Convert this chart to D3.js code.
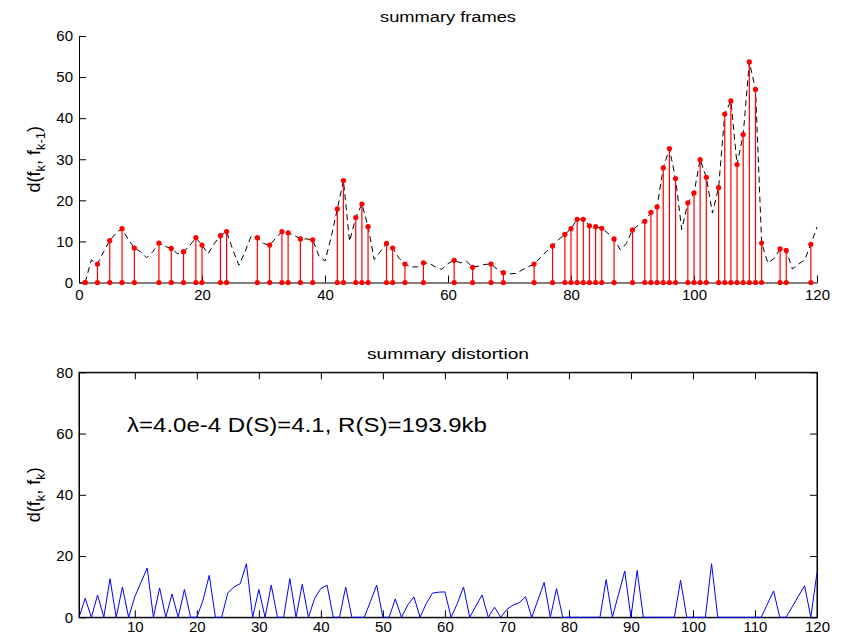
<!DOCTYPE html>
<html>
<head>
<meta charset="utf-8">
<script src="https://cdn.jsdelivr.net/npm/d3@7"></script>
<style>
  html, body { margin: 0; padding: 0; background: #fff; }
  svg { display: block; font-family: "Liberation Sans", Arial, Helvetica, sans-serif; }
</style>
</head>
<body>
<svg id="chart" width="842" height="637"></svg>
<script>
// ---------- data ----------
// d(f_k, f_{k-1}) for frames k = 1..120 (black dashed curve)
const frameDiff = [
  0, 5.5, 4.5, 7.5, 10.2, 12, 13.1, 10.5, 8.4, 7.5,
  6, 7.5, 9.6, 8.8, 8.3, 7, 7.5, 9, 10.9, 9.1,
  7, 9.5, 11.4, 12.4, 8, 4.2, 7.5, 11.3, 10.9, 9.5,
  9.1, 10.8, 12.4, 12.1, 11.5, 10.6, 10.6, 10.4, 6.5, 5.2,
  11, 17.9, 24.8, 10, 15.8, 19.1, 13.6, 5.6, 7.5, 9.5,
  8.4, 6, 4.5, 3.8, 3.8, 4.8, 4.7, 3.7, 3.2, 4.6,
  5.4, 4.8, 5.2, 3.7, 4.0, 4.4, 4.5, 3.2, 2.4, 2.1,
  2.2, 3, 3.8, 4.5, 6, 7.5, 8.9, 10.5, 11.7, 13.1,
  15.4, 15.4, 13.8, 13.6, 13.2, 12, 10.6, 8, 9.5, 12.8,
  14, 14.9, 17.1, 18.4, 27.9, 32.6, 25.3, 12.9, 19.4, 21.8,
  29.9, 25.6, 16.9, 23.1, 41.0, 44.2, 28.7, 36.0, 53.7, 47.0,
  9.6, 4.8, 5.8, 8.2, 7.8, 3.3, 4.5, 5.5, 9.3, 13.5
];
// frames selected into the summary (red stems)
const summaryFrames = [
  1, 3, 5, 7, 9, 13, 15, 17, 19, 20, 23, 24, 29, 31, 33, 34, 36, 38,
  42, 43, 45, 46, 47, 50, 51, 53, 56, 61, 64, 67, 69, 74, 77,
  79, 80, 81, 82, 83, 84, 85, 87, 90, 92, 93, 94, 95, 96, 97,
  99, 100, 101, 102, 104, 105, 106, 107, 108, 109, 110, 111, 114, 115, 119
];
// d(f_k, f'_k) summary distortion for frames k = 1..120 (blue curve)
const distortion = [
  0, 6.2, 0, 7.3, 0, 12.6, 0, 9.9, 0, 6.7,
  11.4, 16.1, 0, 9.6, 0, 7.6, 0, 9.1, 0, 0,
  5.6, 13.7, 0, 0, 8.0, 9.9, 11, 17.5, 0, 9.1,
  0, 10.5, 0, 0, 12.6, 0, 10.8, 0, 6.2, 9.4,
  10.5, 0, 0, 9.9, 0, 0, 0, 5.2, 10.5, 0,
  0, 6.0, 0, 4.0, 6.7, 0, 4.5, 7.9, 8.2, 8.3,
  0, 4.5, 9.9, 0, 3.7, 7.3, 0, 3.3, 0, 2.6,
  4.0, 4.8, 6.7, 0, 5.6, 11.4, 0, 9.4, 0, 0,
  0, 0, 0, 0, 0, 12.3, 0, 7.5, 15.1, 0,
  15.3, 0, 0, 0, 0, 0, 0, 12.1, 0, 0,
  0, 0, 17.5, 0, 0, 0, 0, 0, 0, 0,
  0, 4.3, 8.6, 0, 0, 3.4, 6.9, 10.3, 0, 14.6
];
const topXTicks = [0, 20, 40, 60, 80, 100, 120];
const topYTicks = [0, 10, 20, 30, 40, 50, 60];
const botXTicks = [10, 20, 30, 40, 50, 60, 70, 80, 90, 100, 110, 120];
const botYTicks = [0, 20, 40, 60, 80];
const titles = ["summary frames", "summary distortion"];
const annotation = "\u03bb=4.0e-4 D(S)=4.1, R(S)=193.9kb";

// ---------- drawing ----------
const svg = d3.select("#chart");
const L = 79, R = 817;
const top1 = 36, bot1 = 282.5;
const top2 = 372.3, bot2 = 617.3;
const TICK = 7;

const x1 = d3.scaleLinear().domain([0, 120]).range([L, R]);
const y1 = d3.scaleLinear().domain([0, 60]).range([bot1, top1]);
const x2 = d3.scaleLinear().domain([1, 120]).range([L, R]);
const y2 = d3.scaleLinear().domain([0, 80]).range([bot2, top2]);

function styleAxis(g) {
  g.selectAll("path").attr("stroke", "#000").attr("stroke-width", 1);
  g.selectAll("line").attr("stroke", "#000").attr("stroke-width", 1);
  g.selectAll("text").attr("fill", "#000").attr("font-size", 15)
    .attr("font-family", "'Liberation Sans', Arial, sans-serif");
}

// ===== top panel =====
const topData = frameDiff.map((v, i) => ({ k: i + 1, v }));
const stems = summaryFrames.map(k => ({ k, v: frameDiff[k - 1] }));

// axes (left + bottom, ticks inward)
svg.append("g").attr("transform", `translate(0,${bot1})`)
  .call(d3.axisBottom(x1).tickValues(topXTicks).tickSizeInner(-TICK).tickSizeOuter(0).tickPadding(7))
  .call(styleAxis);
svg.append("g").attr("transform", `translate(${L},0)`)
  .call(d3.axisLeft(y1).tickValues(topYTicks).tickSizeInner(-TICK).tickSizeOuter(0).tickPadding(6))
  .call(styleAxis);

// dashed curve
svg.append("path")
  .datum(topData)
  .attr("fill", "none")
  .attr("stroke", "#000")
  .attr("stroke-width", 1)
  .attr("stroke-dasharray", "6,4")
  .attr("d", d3.line().x(d => x1(d.k)).y(d => y1(d.v)));

// stems
svg.append("g").selectAll("line").data(stems).join("line")
  .attr("x1", d => x1(d.k)).attr("x2", d => x1(d.k))
  .attr("y1", y1(0)).attr("y2", d => y1(d.v))
  .attr("stroke", "#ff0000").attr("stroke-width", 1.2);
svg.append("g").selectAll("circle").data(stems).join("circle")
  .attr("cx", d => x1(d.k)).attr("cy", d => y1(d.v)).attr("r", 2.6)
  .attr("fill", "#ff0000");
svg.append("g").selectAll("circle").data(stems).join("circle")
  .attr("cx", d => x1(d.k)).attr("cy", y1(0)).attr("r", 2.6)
  .attr("fill", "#ff0000");

// title & y label
svg.append("text").attr("x", (L + R) / 2).attr("y", 22)
  .attr("text-anchor", "middle").attr("font-size", 14)
  .attr("textLength", 136).attr("lengthAdjust", "spacingAndGlyphs")
  .text(titles[0]);

function yLabel(cy, sub2) {
  const t = svg.append("text")
    .attr("transform", `translate(40,${cy}) rotate(-90)`)
    .attr("text-anchor", "middle").attr("font-size", 18);
  t.append("tspan").text("d(f");
  t.append("tspan").attr("font-size", 13).attr("dy", 5).text("k");
  t.append("tspan").attr("dy", -5).text(", f");
  t.append("tspan").attr("font-size", 13).attr("dy", 5).text(sub2);
  t.append("tspan").attr("dy", -5).text(")");
}
yLabel((top1 + bot1) / 2, "k-1");

// ===== bottom panel =====
const botData = distortion.map((v, i) => ({ k: i + 1, v }));

svg.append("rect").attr("x", L).attr("y", top2).attr("width", R - L).attr("height", bot2 - top2)
  .attr("fill", "none").attr("stroke", "#000").attr("stroke-width", 1);

svg.append("g").attr("transform", `translate(0,${bot2})`)
  .call(d3.axisBottom(x2).tickValues(botXTicks).tickSizeInner(-TICK).tickSizeOuter(0).tickPadding(4))
  .call(styleAxis);
svg.append("g").attr("transform", `translate(0,${top2})`)
  .call(d3.axisTop(x2).tickValues(botXTicks).tickSizeInner(-TICK).tickSizeOuter(0).tickFormat(""))
  .call(styleAxis);
svg.append("g").attr("transform", `translate(${L},0)`)
  .call(d3.axisLeft(y2).tickValues(botYTicks).tickSizeInner(-TICK).tickSizeOuter(0).tickPadding(6))
  .call(styleAxis);
svg.append("g").attr("transform", `translate(${R},0)`)
  .call(d3.axisRight(y2).tickValues(botYTicks).tickSizeInner(-TICK).tickSizeOuter(0).tickFormat(""))
  .call(styleAxis);

svg.append("path")
  .datum(botData)
  .attr("fill", "none")
  .attr("stroke", "#0000ff")
  .attr("stroke-width", 1)
  .attr("d", d3.line().x(d => x2(d.k)).y(d => y2(d.v)));

svg.append("text").attr("x", (L + R) / 2).attr("y", 359)
  .attr("text-anchor", "middle").attr("font-size", 14)
  .attr("textLength", 162).attr("lengthAdjust", "spacingAndGlyphs")
  .text(titles[1]);

svg.append("text").attr("x", 127).attr("y", 432)
  .attr("font-size", 20)
  .attr("textLength", 360).attr("lengthAdjust", "spacingAndGlyphs")
  .text(annotation);

yLabel((top2 + bot2) / 2, "k");
</script>
</body>
</html>
